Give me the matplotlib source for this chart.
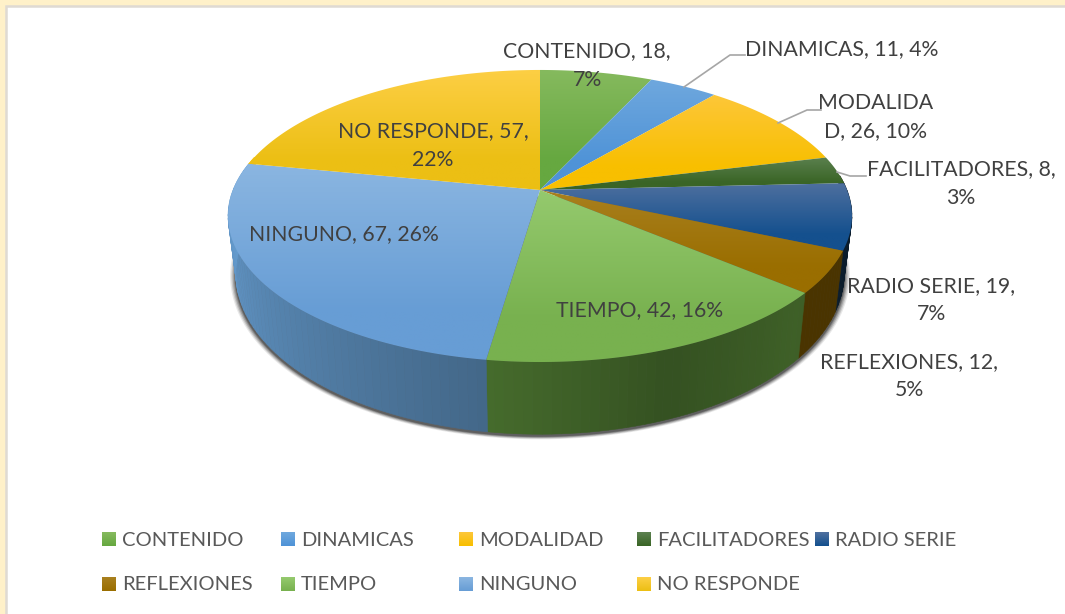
import numpy as np
import matplotlib
matplotlib.use("Agg")
import matplotlib.pyplot as plt
from matplotlib.patches import Polygon, Rectangle
from matplotlib.colors import to_rgb

plt.rcParams['font.family'] = ['Lato', 'DejaVu Sans']

categories = ["CONTENIDO", "DINAMICAS", "MODALIDAD", "FACILITADORES", "RADIO SERIE",
              "REFLEXIONES", "TIEMPO", "NINGUNO", "NO RESPONDE"]
values = [18, 11, 26, 8, 19, 12, 42, 67, 57]
top_light = ["#86ba5e", "#6fa8de", "#fdc73a", "#5c8150", "#4f709f", "#a9801f", "#95ca6e", "#8bb6e1", "#fdcf45"]
top_base = ["#66a840", "#4f93d7", "#f8bf00", "#3a6526", "#14508e", "#9a6e00", "#78b14f", "#679dd5", "#ecbf14"]
side_base = ["#70ad47", "#5b9bd5", "#ffc000", "#43682b", "#255e91", "#9e6f00", "#70ad47", "#6ca6dc", "#ffc000"]
label_lines = [["CONTENIDO, {v},", "{p}%"], ["DINAMICAS, {v}, {p}%"], ["MODALIDA", "D, {v}, {p}%"],
               ["FACILITADORES, {v},", "{p}%"], ["RADIO SERIE, {v},", "{p}%"], ["REFLEXIONES, {v},", "{p}%"],
               ["TIEMPO, {v}, {p}%"], ["NINGUNO, {v}, {p}%"], ["NO RESPONDE, {v},", "{p}%"]]
label_pos = [(587, 51), (842, 49), (876, 103), (961, 169), (931, 286), (909, 362), (640, 310), (344, 234), (433, 131)]
leaders = [[(684, 87), (730, 55), (745, 55)], [(778, 123), (807, 110), (821, 110)],
           [(837, 172), (850, 176), (866, 176)]]
legend_x = [102, 281, 459, 637, 815]
legend_y = [539, 584]

CX, CY = 540, 190
A, B, K = 307.0, 141.4, 0.178


def rim(theta):
    t = np.radians(theta)
    u, v = np.sin(t), np.cos(t)
    d = 1 + K * v
    return A * u / d, B * v / d


def top_xy(theta):
    x, y = rim(theta)
    return CX + x, CY - y


def bottom_xy(theta, grow=0.0):
    x, y = rim(theta)
    return CX + (0.975 + grow) * x, 245 - (1.1 + grow) * y


def shade(theta):
    return np.interp(theta, [85, 113, 114, 130, 131, 160, 188, 282],
                     [0.30, 0.30, 0.47, 0.47, 0.56, 0.47, 0.62, 1.0])


fig = plt.figure(figsize=(10.65, 6.14), dpi=100, facecolor="#fff1c9")
ax = fig.add_axes([0, 0, 1, 1])
ax.set_xlim(0, 1065)
ax.set_ylim(614, 0)
ax.axis("off")
ax.add_patch(Rectangle((6, 6), 1100, 660, fc="white", ec="#dfdad3", lw=1.8, zorder=0))

total = sum(values)
edges = np.concatenate([[0], np.cumsum(values)]) / total * 360

# shadow under the extruded rim
th = np.linspace(70, 290, 240)
for g, a in zip([0.018, 0.014, 0.010, 0.006, 0.003], [0.10, 0.16, 0.22, 0.28, 0.34]):
    px, py = bottom_xy(th, g)
    ax.add_patch(Polygon(np.c_[px, py + 2], closed=True, fc="#222222", ec="none", alpha=a, zorder=1))

# side wall
for i, base in enumerate(side_base):
    a0, a1 = edges[i], edges[i + 1]
    lo, hi = max(a0, 84), min(a1, 284)
    if hi <= lo:
        continue
    angs = np.append(np.arange(lo, hi, 1.5), hi)
    for p, q in zip(angs[:-1], angs[1:]):
        tx0, ty0 = top_xy(p)
        tx1, ty1 = top_xy(q)
        bx0, by0 = bottom_xy(p)
        bx1, by1 = bottom_xy(q)
        col = np.array(to_rgb(base)) * shade((p + q) / 2)
        ax.add_patch(Polygon([(tx0, ty0), (tx1, ty1), (bx1, by1), (bx0, by0)], closed=True,
                             fc=col, ec=col, lw=0.4, zorder=2))

# top slices with vertical gradient
for i in range(len(values)):
    angs = np.linspace(edges[i], edges[i + 1], 80)
    xs, ys = top_xy(angs)
    xs = np.r_[CX, xs]
    ys = np.r_[CY, ys]
    poly = Polygon(np.c_[xs, ys], closed=True, fc="none", ec="none", transform=ax.transData, zorder=3)
    ax.add_patch(poly)
    c0, c1 = np.array(to_rgb(top_light[i])), np.array(to_rgb(top_base[i]))
    f = np.clip(np.linspace(0, 1, 120) / 0.75, 0, 1)[:, None, None]
    grad = c0[None, None, :] * (1 - f) + c1[None, None, :] * f
    im = ax.imshow(grad, extent=(xs.min() - 1, xs.max() + 1, ys.max() + 1, ys.min() - 1),
                   aspect="auto", zorder=3, interpolation="bilinear")
    im.set_clip_path(poly)
ax.set_xlim(0, 1065)
ax.set_ylim(614, 0)

# leader lines
for pts in leaders:
    p = np.array(pts)
    ax.plot(p[:, 0], p[:, 1], color="#a6a6a6", lw=1.2, zorder=4)

# data labels
for i, lines in enumerate(label_lines):
    pct = round(values[i] / total * 100)
    lx, ly = label_pos[i]
    for j, s in enumerate(lines):
        ax.text(lx, ly + 28.5 * j, s.format(v=values[i], p=pct), ha="center", va="center",
                fontsize=15.3, color="#404040", zorder=5)

# legend
for i, cat in enumerate(categories):
    row = 0 if i < 5 else 1
    col = i if i < 5 else i - 5
    x, y = legend_x[col], legend_y[row]
    c0, c1 = np.array(to_rgb(top_light[i])), np.array(to_rgb(top_base[i]))
    f = np.linspace(0, 1, 20)[:, None, None]
    ax.imshow(c0[None, None, :] * (1 - f) + c1[None, None, :] * f, extent=(x, x + 14, y + 7, y - 7),
              aspect="auto", zorder=3)
    ax.text(x + 20, y + 1, cat, ha="left", va="center", fontsize=14.5, color="#595959", zorder=5)
ax.set_xlim(0, 1065)
ax.set_ylim(614, 0)

fig.savefig("out.png", dpi=100, facecolor=fig.get_facecolor())
